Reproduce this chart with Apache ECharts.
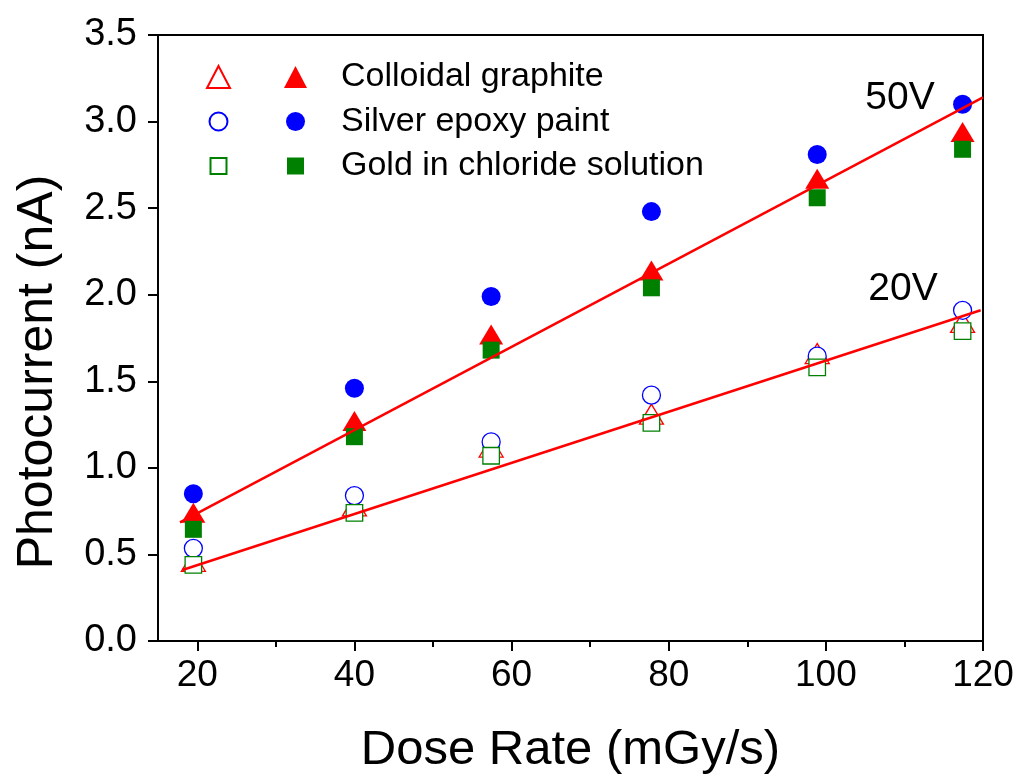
<!DOCTYPE html>
<html>
<head>
<meta charset="utf-8">
<script src="https://cdn.jsdelivr.net/npm/echarts@6/dist/echarts.min.js"></script>
<style>
  html, body { margin: 0; background: #fff; }
  #chart { width: 1020px; height: 780px; }
</style>
</head>
<body>
<div id="chart"></div>
<script>
  // dose rate (mGy/s) and photocurrent (nA)
  const doseRate = [19.5, 40, 57.4, 77.8, 98.9, 117.4];
  const graphite50 = [0.74, 1.27, 1.77, 2.14, 2.67, 2.94];
  const silver50 = [0.85, 1.46, 1.99, 2.48, 2.81, 3.1];
  const gold50 = [0.645, 1.18, 1.68, 2.04, 2.56, 2.84];
  const graphite20 = [0.46, 0.78, 1.12, 1.31, 1.66, 1.84];
  const silver20 = [0.535, 0.84, 1.15, 1.42, 1.645, 1.91];
  const gold20 = [0.44, 0.74, 1.07, 1.26, 1.58, 1.79];
  // linear fit end points
  const fit50 = [[17.8, 0.685], [120, 3.14]];
  const fit20 = [[18.1, 0.41], [119.7, 1.91]];
  const xMajor = [20, 40, 60, 80, 100, 120];
  const xMinor = [30, 50, 70, 90, 110];
  const names = ["Colloidal graphite", "Silver epoxy paint", "Gold in chloride solution"];

  const font = "'Liberation Sans', Arial, sans-serif";
  const pairs = (ys) => doseRate.map((x, i) => [x, ys[i]]);

  // legend icons drawn inside a 22x22 box so circles/squares stay smaller than triangles
  const iconTri = "path://M0,0M22,22M11,2L23,21H-1Z";
  const iconCircle = (r) => `path://M0,0M22,22M${11 + r},11A${r},${r},0,1,1,${11 - r},11A${r},${r},0,1,1,${11 + r},11Z`;
  const iconSquare = (h) => `path://M0,0M22,22M${11 - h},${11 - h}H${11 + h}V${11 + h}H${11 - h}Z`;
  const openIcons = ["triangle", iconCircle(9), iconSquare(8)];
  const fullIcons = ["triangle", iconCircle(9.5), iconSquare(8.5)];

  let myChart = echarts.init(document.getElementById("chart"));

  const openMark = (name, ys, symbol, size, color) => ({
    name: name + " 20V",
    type: "scatter",
    data: pairs(ys),
    symbol: symbol,
    symbolSize: size,
    itemStyle: { color: "#fff", borderColor: color, borderWidth: 1.3, opacity: 1 },
    z: 3,
  });
  const fullMark = (name, ys, symbol, size, color) => ({
    name: name,
    type: "scatter",
    data: pairs(ys),
    symbol: symbol,
    symbolSize: size,
    itemStyle: { color: color, opacity: 1 },
    z: 3,
  });
  const fitLine = (data) => ({
    type: "line",
    data: data,
    symbol: "none",
    lineStyle: { color: "#ff0000", width: 2.5 },
    z: 5,
  });

  const option = {
    animation: false,
    backgroundColor: "#fff",
    grid: {
      left: 158,
      top: 35,
      right: 37,
      bottom: 137,
      show: true,
      borderColor: "#000",
      borderWidth: 2,
    },
    legend: [
      {
        left: 201,
        top: 55,
        orient: "vertical",
        itemWidth: 23,
        itemHeight: 22,
        itemGap: 10.5,
        formatter: () => " ",
        textStyle: { fontSize: 34, lineHeight: 34, fontFamily: font },
        data: names.map((n, i) => ({ name: n + " 20V", icon: openIcons[i] })),
      },
      {
        left: 279,
        top: 55,
        orient: "vertical",
        itemWidth: 23,
        itemHeight: 22,
        itemGap: 10.5,
        textStyle: { fontSize: 34, lineHeight: 34, color: "#000", fontFamily: font, padding: [0, 0, 0, 29] },
        data: names.map((n, i) => ({ name: n, icon: fullIcons[i] })),
      },
    ],
    xAxis: [
      {
        type: "value",
        min: 15,
        max: 120,
        position: "bottom",
        name: "Dose Rate (mGy/s)",
        nameLocation: "middle",
        nameGap: 85,
        nameTextStyle: { fontSize: 49, color: "#000", fontFamily: font },
        axisLine: { lineStyle: { color: "#000", width: 2 } },
        axisTick: { customValues: xMajor, length: 10, lineStyle: { color: "#000", width: 2 } },
        axisLabel: { customValues: xMajor, fontSize: 37, color: "#000", fontFamily: font, margin: 16 },
        splitLine: { show: false },
      },
      {
        type: "value",
        min: 15,
        max: 120,
        position: "bottom",
        axisLine: { show: false },
        axisTick: { customValues: xMinor, length: 6, lineStyle: { color: "#000", width: 2 } },
        axisLabel: { show: false },
        splitLine: { show: false },
      },
    ],
    yAxis: {
      type: "value",
      min: 0,
      max: 3.5,
      interval: 0.5,
      axisLine: { show: true, lineStyle: { color: "#000", width: 2 } },
      axisTick: { show: true, length: 10, lineStyle: { color: "#000", width: 2 } },
      axisLabel: {
        fontSize: 38,
        color: "#000",
        fontFamily: font,
        margin: 21,
        formatter: (v) => v.toFixed(1),
      },
      splitLine: { show: false },
    },
    graphic: [
      {
        type: "text",
        x: 38,
        y: 372,
        rotation: Math.PI / 2,
        style: {
          text: "Photocurrent (nA)",
          fontSize: 50,
          fontFamily: font,
          fill: "#000",
          align: "center",
          verticalAlign: "middle",
        },
      },
      {
        type: "text",
        x: 900,
        y: 98,
        style: { text: "50V", fontSize: 39, fontFamily: font, fill: "#000", align: "center", verticalAlign: "middle" },
      },
      {
        type: "text",
        x: 903,
        y: 289,
        style: { text: "20V", fontSize: 39, fontFamily: font, fill: "#000", align: "center", verticalAlign: "middle" },
      },
    ],
    series: [
      openMark(names[0], graphite20, "triangle", [24, 20], "#ff0000"),
      openMark(names[1], silver20, "circle", 18, "#0000ff"),
      openMark(names[2], gold20, "rect", 16.5, "#008000"),
      fullMark(names[0], graphite50, "triangle", [24, 20], "#ff0000"),
      fullMark(names[1], silver50, "circle", 19, "#0000ff"),
      fullMark(names[2], gold50, "rect", 17, "#008000"),
      fitLine(fit50),
      fitLine(fit20),
    ],
  };
  myChart.setOption(option);
</script>
</body>
</html>
